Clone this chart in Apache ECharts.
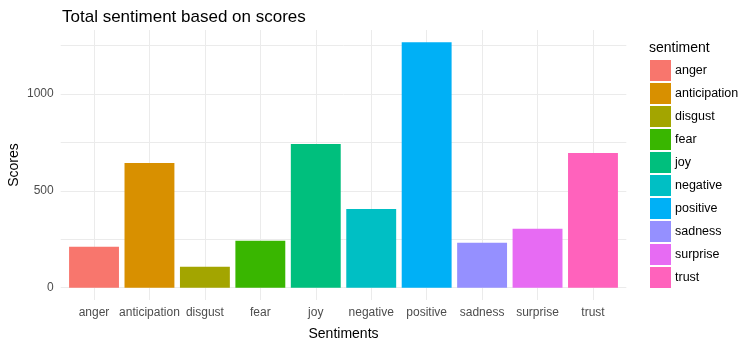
<!DOCTYPE html>
<html>
<head>
<meta charset="utf-8">
<script src="https://cdn.jsdelivr.net/npm/echarts@6/dist/echarts.min.js"></script>
<style>html,body{margin:0;padding:0;background:#fff}#c{width:753px;height:344px}</style>
</head>
<body>
<div id="c"></div>
<script>
const categories = ['anger','anticipation','disgust','fear','joy','negative','positive','sadness','surprise','trust'];
const scores = [211, 644, 108, 242, 742, 407, 1267, 232, 304, 695];
const colors = ['#F8766D','#D89000','#A3A500','#39B600','#00BF7D','#00BFC4','#00B0F6','#9590FF','#E76BF3','#FF62BC'];
const yTicks = [0, 250, 500, 750, 1000, 1250];
const yLabels = [0, 500, 1000];

const FONT = 'Liberation Sans, Arial, sans-serif';
const ymax = Math.max(...scores);
const pad = ymax * 0.05;
const yMin = -pad, yMax = ymax + pad;

const chart = echarts.init(document.getElementById('c'), null, {renderer: 'canvas'});

const series = categories.map((c, i) => ({
  name: c,
  type: 'bar',
  xAxisIndex: 1,
  yAxisIndex: 1,
  stack: 'all',
  barWidth: '90%',
  itemStyle: {color: colors[i]},
  emphasis: {disabled: true},
  data: categories.map((_, j) => j === i ? scores[i] : '-')
}));

chart.setOption({
  animation: false,
  textStyle: {fontFamily: FONT},
  title: [
    {text: 'Total sentiment based on scores', left: 62, top: 9, padding: 0,
     textStyle: {fontSize: 17, fontWeight: 'normal', color: '#000', fontFamily: FONT}},
    {text: 'sentiment', left: 649, top: 41, padding: 0,
     textStyle: {fontSize: 14, fontWeight: 'normal', color: '#000', fontFamily: FONT}}
  ],
  legend: {
    orient: 'vertical', left: 650, top: 60, padding: 0,
    itemWidth: 21, itemHeight: 21, itemGap: 2, icon: 'rect',
    textStyle: {fontSize: 12.5, color: '#000', fontFamily: FONT, padding: [0,0,0,-1]},
    data: categories
  },
  grid: [
    {left: 60.7, right: 126.7, top: 30, bottom: 44, outerBoundsMode: 'none'},
    {left: 66.3, right: 132.3, top: 30, bottom: 44, outerBoundsMode: 'none'}
  ],
  xAxis: [
    {type: 'category', gridIndex: 0, data: categories,
     axisLine: {show: false}, axisTick: {show: false}, axisLabel: {show: false}, splitLine: {show: false},
     name: 'Sentiments', nameLocation: 'middle', nameGap: 27, nameMoveOverlap: false,
     nameTextStyle: {fontSize: 14, color: '#000', fontFamily: FONT}},
    {type: 'category', gridIndex: 1, data: categories,
     axisLine: {show: false}, axisTick: {show: false, alignWithLabel: true},
     axisLabel: {fontSize: 12, color: '#4D4D4D', margin: 7, fontFamily: FONT, interval: 0},
     splitLine: {show: true, alignWithLabel: true, lineStyle: {color: '#EBEBEB', width: 1}}}
  ],
  yAxis: [
    {type: 'value', gridIndex: 0, min: yMin, max: yMax,
     axisLine: {show: false},
     axisTick: {show: false, customValues: yTicks},
     axisLabel: {customValues: yLabels, fontSize: 12, color: '#4D4D4D', margin: 7, fontFamily: FONT,
                 formatter: v => String(v)},
     splitLine: {show: true, lineStyle: {color: '#EBEBEB', width: 1}},
     name: 'Scores', nameLocation: 'middle', nameGap: 40, nameRotate: 90, nameMoveOverlap: false,
     nameTextStyle: {fontSize: 14, color: '#000', fontFamily: FONT}},
    {type: 'value', gridIndex: 1, min: yMin, max: yMax,
     axisLine: {show: false}, axisTick: {show: false}, axisLabel: {show: false}, splitLine: {show: false}}
  ],
  series: series
});
</script>
</body>
</html>
